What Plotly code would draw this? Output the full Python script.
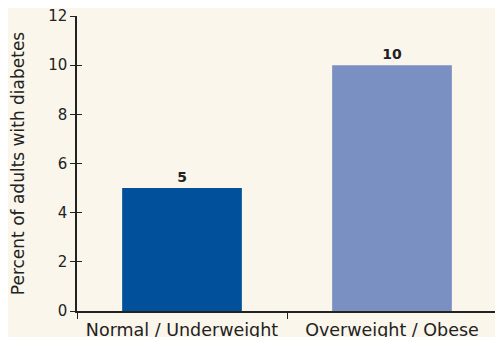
import plotly.graph_objects as go

categories = ["Normal / Underweight", "Overweight / Obese"]
values = [5, 10]
colors = ["#00509B", "#7A90C3"]
y_ticks = [0, 2, 4, 6, 8, 10, 12]

fig = go.Figure()
fig.add_trace(go.Bar(
    x=categories, y=values,
    marker=dict(color=colors, line=dict(width=0)),
    width=0.57,
    text=[str(v) for v in values],
    textposition="outside",
    textfont=dict(family="DejaVu Sans", size=14, color="#222222", weight="bold"),
    cliponaxis=False,
    hoverinfo="skip",
))
# invisible trace to make the overlay axis (crossing tick marks) render
fig.add_trace(go.Scatter(
    x=categories, y=values, yaxis="y2", mode="markers",
    marker=dict(opacity=0), hoverinfo="skip", showlegend=False,
))

fig.update_layout(
    width=503, height=337,
    margin=dict(l=69, r=14, t=8, b=34),
    paper_bgcolor="#FAF6EB",
    plot_bgcolor="#FAF6EB",
    font=dict(family="DejaVu Sans", color="#222222", size=14),
    showlegend=False,
    xaxis=dict(
        automargin=False,
        showline=True, linecolor="#222222", linewidth=1.5,
        ticks="outside", tickson="boundaries", ticklen=6, tickcolor="#222222",
        tickfont=dict(size=17.5), showgrid=False, ticklabelstandoff=2,
    ),
    yaxis=dict(
        automargin=False, range=[0, 12], tickvals=y_ticks,
        showline=True, linecolor="#222222", linewidth=1.5,
        ticks="outside", ticklen=5, tickcolor="#222222",
        showgrid=False, zeroline=False, ticklabeloverflow="allow",
        title=dict(text="Percent of adults with diabetes", font=dict(size=17), standoff=26),
        tickfont=dict(size=15),
    ),
    yaxis2=dict(
        overlaying="y", side="left", anchor="x", range=[0, 12],
        tickvals=y_ticks, showticklabels=False, showline=False,
        ticks="inside", ticklen=5, tickcolor="#222222", tickwidth=1,
        showgrid=False, zeroline=False, automargin=False,
    ),
)

fig.write_html("out.html")
